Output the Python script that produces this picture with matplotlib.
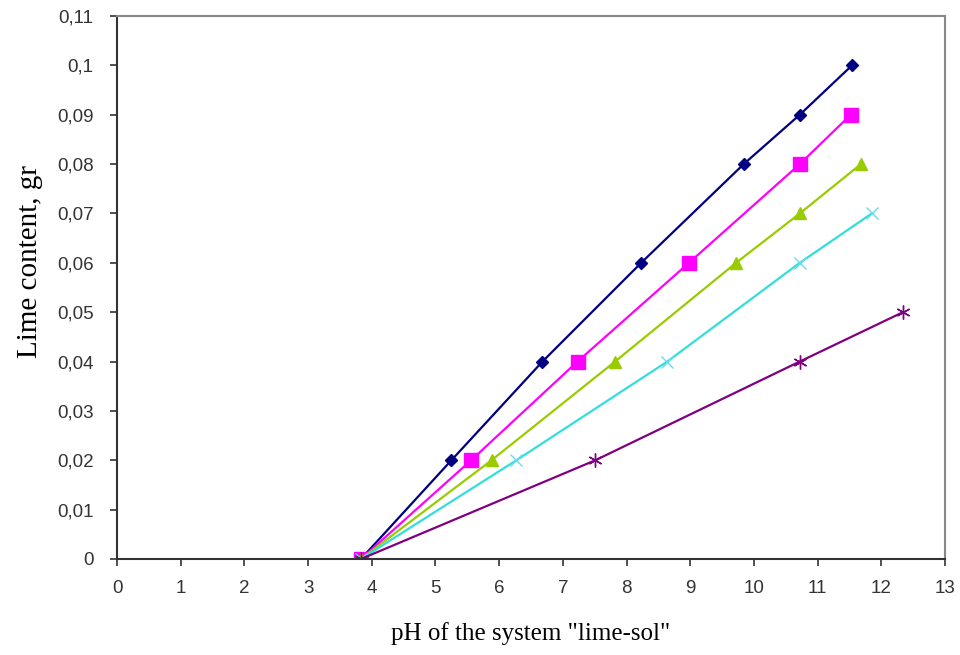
import numpy as np
import matplotlib
matplotlib.use("Agg")
import matplotlib.pyplot as plt
from matplotlib.ticker import FuncFormatter

# values (pH, lime content in gr)
ph_1 = [3.83, 5.25, 6.68, 8.23, 9.84, 10.72, 11.54]
lime_1 = [0, 0.02, 0.04, 0.06, 0.08, 0.09, 0.10]

ph_2 = [3.83, 5.56, 7.23, 8.98, 10.72, 11.52]
lime_2 = [0, 0.02, 0.04, 0.06, 0.08, 0.09]

ph_3 = [3.83, 5.88, 7.82, 9.72, 10.72, 11.68]
lime_3 = [0, 0.02, 0.04, 0.06, 0.07, 0.08]

ph_4 = [3.83, 6.27, 8.64, 10.72, 11.85]
lime_4 = [0, 0.02, 0.04, 0.06, 0.07]

ph_5 = [3.83, 7.51, 10.72, 12.34]
lime_5 = [0, 0.02, 0.04, 0.05]

x_ticks = list(range(0, 14))
y_ticks = [0, 0.01, 0.02, 0.03, 0.04, 0.05, 0.06, 0.07, 0.08, 0.09, 0.10, 0.11]

fig = plt.figure(figsize=(9.6, 6.55), dpi=100)
ax = fig.add_axes([0.1219, 0.1466, 0.8625, 0.829])

ax.plot(ph_1, lime_1, color="#000080", lw=1.6, marker="D", ms=6, mfc="#000080", mec="#000080")
ax.plot(ph_2, lime_2, color="#FF00FF", lw=1.6, marker="s", ms=9.5, mfc="#FF00FF", mec="#FF00FF")
ax.plot(ph_3, lime_3, color="#99CC00", lw=1.6, marker="^", ms=9, mfc="#99CC00", mec="#99CC00")
ax.plot(ph_4, lime_4, color="#33DDDD", lw=1.6, marker="x", ms=9, mew=1, mec="#66DDEE")
ax.plot(ph_5, lime_5, color="#800080", lw=1.6, marker=(6, 2, 0), ms=10, mew=1, mec="#800080")

ax.set_xlim(0, 13)
ax.set_ylim(0, 0.11)
ax.set_xticks(x_ticks)
ax.set_yticks(y_ticks)

def comma_fmt(v, pos):
    s = ("%.2f" % v).rstrip("0").rstrip(".")
    return s.replace(".", ",")

ax.yaxis.set_major_formatter(FuncFormatter(comma_fmt))

for side in ["left", "bottom"]:
    ax.spines[side].set_color("#333333")
    ax.spines[side].set_linewidth(1.5)
for side in ["top", "right"]:
    ax.spines[side].set_color("#888888")
    ax.spines[side].set_linewidth(1.5)

ax.tick_params(axis="both", direction="out", length=5, width=1.2, color="#333333",
               labelsize=13.5, labelcolor="#333333")
ax.tick_params(axis="x", pad=10)
ax.tick_params(axis="y", pad=12)
for lab in ax.get_xticklabels() + ax.get_yticklabels():
    lab.set_family("Liberation Sans")

ax.set_xlabel('pH of the system "lime-sol"', family="Liberation Serif", fontsize=18, labelpad=18)
ax.set_ylabel("Lime content, gr", family="Liberation Serif", fontsize=21)
ax.yaxis.set_label_coords(-0.089, 0.547)

fig.savefig("out.png", dpi=100)
